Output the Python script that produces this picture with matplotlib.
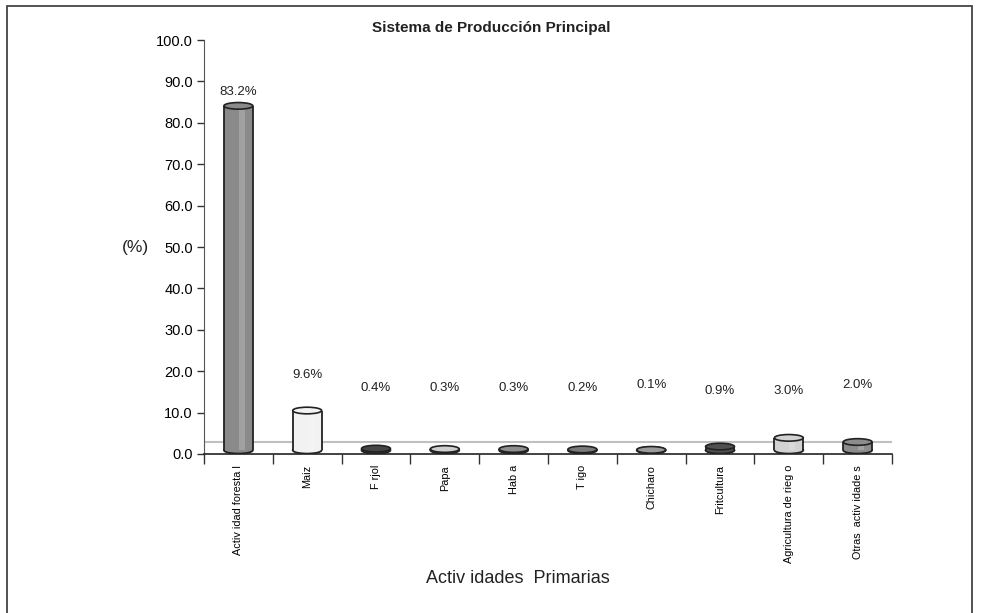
import numpy as np
import matplotlib.pyplot as plt
from matplotlib.patches import Ellipse, Rectangle

# Datos del gráfico
categorias = ['Activ idad foresta l', 'Maiz', 'F rjol', 'Papa', 'Hab a', 'T igo',
              'Chicharo', 'Fritcultura', 'Agricultura de rieg o', 'Otras  activ idade s']
porcentajes = [83.2, 9.6, 0.4, 0.3, 0.3, 0.2, 0.1, 0.9, 3.0, 2.0]
etiquetas = ['83.2%', '9.6%', '0.4%', '0.3%', '0.3%', '0.2%', '0.1%', '0.9%', '3.0%', '2.0%']
colores = ['#8a8a8a', '#f2f2f2', '#454545', '#cfcfcf', '#8f8f8f',
           '#7a7a7a', '#9a9a9a', '#505050', '#d2d2d2', '#8c8c8c']

plt.rcParams['font.family'] = ['Liberation Sans', 'DejaVu Sans']

fig = plt.figure(figsize=(9.82, 6.13), dpi=100)
ax = fig.add_axes([0.2077, 0.2594, 0.7007, 0.6753])

x = np.arange(len(categorias))
ancho = 0.42
base = 0.9

# piso gris del gráfico
ax.axhline(2.8, color='#c0c0c0', lw=1.5, zorder=1)

for xi, v, c in zip(x, porcentajes, colores):
    # fondo redondeado del cilindro
    ax.add_patch(Ellipse((xi, base), ancho, 1.6, facecolor=c, edgecolor='#222222',
                         linewidth=1.3, zorder=2))
    ax.bar(xi, v, bottom=base, width=ancho, color=c, edgecolor='none', zorder=3)
    ax.vlines([xi - ancho / 2, xi + ancho / 2], base, base + v, color='#222222',
              linewidth=1.3, zorder=4)
    # brillo lateral
    ax.bar(xi + ancho * 0.12, v, bottom=base, width=ancho * 0.2, color='white',
           alpha=0.2, linewidth=0, zorder=4)
    # tapa del cilindro
    ax.add_patch(Ellipse((xi, base + v), ancho, 1.6, facecolor=c, edgecolor='#222222',
                         linewidth=1.2, zorder=5))

# posiciones de las etiquetas
y_etiq = [87.4, 19.1, 15.9, 15.9, 15.9, 15.9, 16.6, 15.2, 15.2, 16.6]
for xi, yy, t in zip(x, y_etiq, etiquetas):
    ax.text(xi, yy, t, ha='center', va='center', fontsize=9.5, color='#222222')

ax.set_xlim(-0.5, len(categorias) - 0.5)
ax.set_ylim(0, 100)
ax.set_yticks(np.arange(0, 101, 10))
ax.set_yticklabels([f'{v:.1f}' for v in np.arange(0, 101, 10)], fontsize=10.5)
ax.tick_params(axis='y', direction='out', length=5, width=1, color='#333333', pad=3)

ax.set_xticks(x)
ax.set_xticklabels(categorias, rotation=90, fontsize=7.8)
ax.tick_params(axis='x', length=0, pad=8)
ax.set_xticks(np.arange(-0.5, len(categorias)), minor=True)
ax.tick_params(axis='x', which='minor', direction='out', length=7, width=1, color='#333333')

for s in ['top', 'right']:
    ax.spines[s].set_visible(False)
ax.spines['left'].set_color('#555555')
ax.spines['bottom'].set_color('#222222')
ax.spines['bottom'].set_linewidth(1.2)
ax.spines['bottom'].set_zorder(6)

fig.text(0.5, 0.955, 'Sistema de Producción Principal', ha='center', va='center',
         fontsize=11, fontweight='bold', color='#222222')
fig.text(0.138, 0.597, '(%)', ha='center', va='center', fontsize=12.5, color='#222222')
fig.text(0.527, 0.057, 'Activ idades  Primarias', ha='center', va='center',
         fontsize=13, color='#222222')

# marco
fig.patches.append(Rectangle((7 / 982, -0.05), 965 / 982, 1 - 6 / 613 + 0.05,
                             transform=fig.transFigure, fill=False,
                             edgecolor='#444444', linewidth=1.3))

fig.savefig('out.png', dpi=100)
